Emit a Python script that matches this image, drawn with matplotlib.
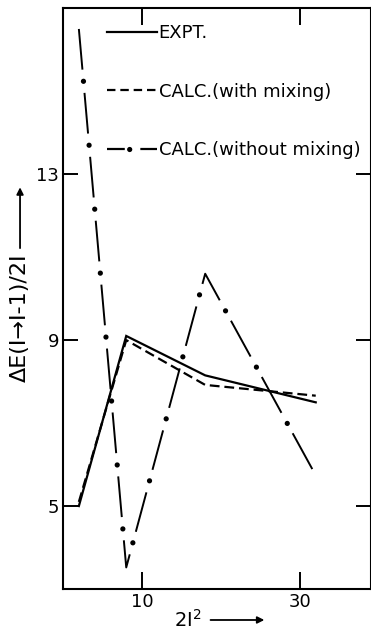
import matplotlib
matplotlib.use("Agg")
import matplotlib.pyplot as plt
from matplotlib.lines import Line2D
from matplotlib.legend_handler import HandlerTuple

plt.rcParams["font.family"] = ["DejaVu Sans"]
plt.rcParams["path.simplify"] = False

# 2I^2 values and Delta E(I -> I-1)/2I
spin_x = [2, 8, 18, 32]
expt = [5.0, 9.1, 8.15, 7.5]
calc_mix = [5.1, 9.0, 7.92, 7.66]
calc_nomix = [16.5, 3.52, 10.6, 5.74]

x_ticks = [10, 30]
y_ticks = [5, 9, 13]

fig, ax = plt.subplots(figsize=(3.71, 6.32), dpi=100)
fig.subplots_adjust(left=0.17, right=1.0, bottom=0.068, top=0.987)

# dash-dot: long dashes, round dots laid on the same path in the gaps
ax.plot(spin_x, calc_nomix, color="black", linewidth=1.4,
        linestyle=(0, (21, 12)), snap=False)
ax.plot(spin_x, calc_nomix, color="black", linewidth=3.8,
        linestyle=(2.21, (0.003, 12.16)), dash_capstyle="round")
ax.plot(spin_x, expt, color="black", linewidth=1.6, solid_joinstyle="miter")
ax.plot(spin_x, calc_mix, color="black", linewidth=1.6, linestyle=(0, (4.4, 2.2)))

ax.set_xlim(0, 39)
ax.set_ylim(3, 17)
ax.set_xticks(x_ticks)
ax.set_yticks(y_ticks)
ax.tick_params(direction="in", length=11, width=1.4, labelsize=13, pad=3,
               top=True, right=True)
ax.tick_params(axis="x", length=12)
for s in ax.spines.values():
    s.set_linewidth(1.5)

h_expt = Line2D([], [], color="black", linewidth=1.6)
h_mix = Line2D([], [], color="black", linewidth=1.6, linestyle=(0, (3.8, 2.2)))
h_dash = Line2D([], [], color="black", linewidth=1.6, linestyle=(0, (8, 7)))
h_dot = Line2D([], [], color="black", linewidth=3.8,
               linestyle=(5.8, (0.003, 10)), dash_capstyle="round")
ax.legend([h_expt, h_mix, (h_dash, h_dot)],
          ["EXPT.", "CALC.(with mixing)", "CALC.(without mixing)"],
          handler_map={tuple: HandlerTuple(ndivide=1, pad=0)},
          loc="upper left", bbox_to_anchor=(0.12, 0.985), frameon=False,
          fontsize=13, handlelength=2.75, handletextpad=0.1, labelspacing=2.25,
          borderaxespad=0)

fig.text(0.054, 0.497, "ΔE(I→I-1)/2I", rotation=90, fontsize=16,
         ha="center", va="center")
ax.annotate("", xy=(0.054, 0.708), xytext=(0.054, 0.603), xycoords="figure fraction",
            arrowprops=dict(arrowstyle="-|>", color="black", lw=1.3,
                            mutation_scale=10))
fig.text(0.505, 0.019, "2I$^2$", fontsize=14, ha="center", va="center")
ax.annotate("", xy=(0.72, 0.019), xytext=(0.56, 0.019), xycoords="figure fraction",
            arrowprops=dict(arrowstyle="-|>", color="black", lw=1.3,
                            mutation_scale=10))

fig.savefig("out.png", dpi=100)
